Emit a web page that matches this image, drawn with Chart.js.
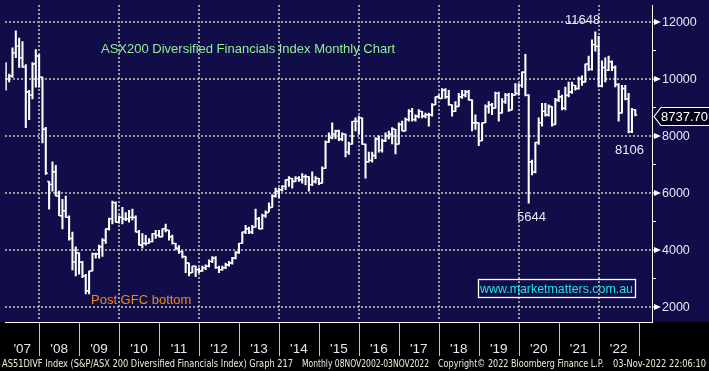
<!DOCTYPE html>
<html><head><meta charset="utf-8">
<script src="https://cdn.jsdelivr.net/npm/chart.js@4.4.1/dist/chart.umd.min.js"></script>
<style>html,body{margin:0;padding:0;background:#000;overflow:hidden}canvas{display:block}</style>
</head><body>
<canvas id="c" width="709" height="371"></canvas>
<script>
// ---- data: monthly OHLC, Feb 2007 .. Nov 2022 ----
const firstYear = 2007, firstMonth = 1; // Feb 2007 (0-based month)
const opens = [
 10200,10000,10100,10910,11140,10740,10420,9540,9430,10520,10800,
 10060,8230,6400,6300,6740,5890,5200,5370,5140,4400,3580,3890,
 3570,3090,2570,3260,3860,3860,4110,4340,4740,5090,5660,4970,
 5140,5090,5090,5140,5140,4630,4170,4230,4230,4290,4570,4510,
 4460,4740,4690,4460,4230,4060,3940,3770,3540,3200,3430,3310,
 3260,3370,3430,3600,3710,3380,3310,3370,3480,3540,3710,3910,
 4230,4630,4740,4630,4800,5090,4740,5200,5310,5490,5880,6060,
 6110,6230,6460,6510,6400,6510,6460,6570,6570,6290,6400,6510,
 6340,6860,7780,7940,8060,8170,7890,8060,7430,7710,8510,8510,
 8630,7710,7090,7140,7310,7890,7490,7830,8000,8060,8230,7710,
 8400,8170,8570,8860,8570,8690,8860,8690,8740,8740,9090,9370,
 9310,9600,9370,9090,8860,9030,9370,9430,9540,9260,8460,8460,
 7830,8460,9030,9090,8970,9490,8800,9200,9430,8910,9430,9490,
 9770,10230,9430,7090,6730,7770,8460,8860,8740,9030,8400,9260,
 9370,8970,9430,9540,9770,9660,10000,9890,10520,10340,11200,11140,
 9750,10400,10300,10600,10400,9800,8800,9660,9300,8150,8920
];
const highs = [
 10570,10170,11090,11680,11430,11310,10500,9600,10570,11030,10850,
 10060,8300,6400,7090,6970,6060,5770,5890,5200,4630,4110,3900,
 3600,3140,3260,3890,3890,4170,4400,4740,5120,5715,5690,5200,
 5490,5310,5390,5430,5200,4690,4570,4510,4400,4570,4690,4690,
 4740,4910,4690,4520,4230,4150,3970,3770,3540,3430,3430,3370,
 3430,3480,3650,3770,3770,3430,3430,3540,3600,3740,3940,4230,
 4630,4860,4800,4860,5430,5140,5260,5370,5650,5940,6170,6170,
 6260,6460,6570,6510,6570,6570,6680,6630,6570,6740,6570,6510,
 6910,7830,8110,8460,8200,8200,8110,8060,7780,8510,8630,8690,
 8630,7710,7430,7430,7940,8000,7890,8110,8170,8290,8230,8460,
 8520,8630,8920,8970,8740,8920,8860,8800,8800,9130,9370,9430,
 9660,9660,9600,9090,9200,9490,9600,9600,9600,9260,8740,8460,
 8460,9090,9200,9140,9540,9540,9310,9490,9490,9490,9830,9830,
 10250,10860,9450,7150,7770,8630,9140,9140,9090,9030,9320,9600,
 9430,9710,9890,9890,9770,10060,10110,10520,10800,11370,11648,11490,
 10630,10740,10800,10630,10460,9830,9770,9770,9490,8970,8920
];
const lows = [
 9600,9890,10050,10740,10400,10400,8290,8570,9300,9710,9710,
 7750,6650,5430,6060,5890,5200,4740,5140,4340,3300,3090,3150,
 3030,2460,2460,3260,3710,3710,3770,4230,4690,4915,4970,4940,
 4910,5030,4970,5050,4630,4170,4060,4170,4230,4280,4400,4460,
 4460,4630,4340,4200,4000,3880,3720,3200,3090,3200,3060,3200,
 3250,3310,3400,3550,3350,3200,3280,3340,3430,3500,3680,3880,
 4230,4570,4570,4570,4800,4740,4740,5140,5340,5490,5850,5830,
 6060,6110,6230,6170,6400,6400,6340,6280,6060,6250,6340,6290,
 6340,6860,7770,7890,7900,7830,7830,7260,7350,7710,8170,8060,
 7700,6514,7080,7080,7200,7430,7430,7800,7890,7720,7370,7710,
 8170,8170,8520,8520,8520,8630,8630,8630,8340,8690,9090,9310,
 9310,9310,9080,8690,8860,9030,9310,9370,9250,8170,8230,7660,
 7830,8460,8800,8740,8970,8516,8800,9140,8860,8910,9430,9430,
 9700,9400,5644,6630,6700,7700,8340,8690,8690,8340,8400,9200,
 8910,8910,9370,9490,9600,9640,9770,9880,10290,10300,10970,9720,
 9715,9890,10290,10290,9715,8516,8800,9260,8106,8115,8700
];
const closes = [
 10000,10100,10910,11140,10740,10420,9540,9430,10520,10800,10060,
 8230,6690,6300,6740,5890,5200,5370,5140,4400,3580,3890,3570,
 3090,2570,3260,3860,3860,4110,4340,4740,5090,5660,4970,5140,
 5090,5090,5140,5140,4630,4170,4230,4230,4290,4570,4510,4460,
 4740,4690,4460,4230,4060,3940,3770,3540,3200,3430,3310,3260,
 3370,3430,3600,3710,3380,3310,3370,3480,3540,3710,3910,4230,
 4630,4740,4630,4800,5090,4740,5200,5310,5490,5880,6060,6110,
 6230,6460,6510,6400,6510,6460,6570,6570,6290,6400,6510,6340,
 6860,7780,7940,8060,8170,7890,8060,7430,7710,8510,8510,8630,
 7710,7090,7140,7310,7890,7490,7830,8000,8060,8230,7710,8400,
 8170,8570,8860,8570,8690,8860,8690,8740,8740,9090,9370,9310,
 9600,9370,9090,8860,9030,9370,9430,9540,9260,8460,8460,7830,
 8460,9030,9090,8970,9490,8800,9200,9430,8910,9430,9490,9770,
 10230,9430,7090,6730,7770,8460,8860,8740,9030,8400,9260,9370,
 8970,9430,9540,9770,9660,10000,9890,10520,10340,11200,11140,9750,
 10400,10000,10600,10400,9800,8800,9660,9300,8150,8920,8737.70
];
const years = [2007,2008,2009,2010,2011,2012,2013,2014,2015,2016,2017,2018,2019,2020,2021,2022];
const yearLabels = ["'07","'08","'09","'10","'11","'12","'13","'14","'15","'16","'17","'18","'19","'20","'21","'22"];
const gridYears = [2008,2010,2012,2014,2016,2018,2020,2022];
const yTicks = [2000,3000,4000,5000,6000,7000,8000,9000,10000,11000,12000];
const yLabels = ['2000','','4000','','6000','','8000','','10000','','12000'];
const lastLabel = '8737.70';

// month-end position of each bar, in decimal years
const times = closes.map((_, i) => firstYear + (firstMonth + i + 1) / 12);
const tickShift = 0.3 / 12;
const xTicks = years.concat([years[years.length - 1] + 1]);

const NAVY = '#100d49';
const GRID = '#9a9a9a';
const FONT = '"Liberation Sans", Arial, sans-serif';

function drawGrid(chart) {
  // dotted grid (2px dots every 4px) at the labelled ticks, placed by the chart's scales
  const ctx = chart.ctx;
  const ca = chart.chartArea;
  const xs = chart.scales.x, ys = chart.scales.y;
  ctx.save();
  ctx.fillStyle = GRID;
  for (let k = 0; k < gridYears.length; k++) {
    const px = Math.round(xs.getPixelForValue(gridYears[k]));
    for (let yy = Math.round(ca.top); yy < ca.bottom - 1; yy += 4) {
      ctx.fillRect(px - 1, yy, 2, 2);
    }
  }
  for (let k = 0; k < yTicks.length; k++) {
    if (!yLabels[k]) continue;
    const py = Math.round(ys.getPixelForValue(yTicks[k]));
    for (let xx = Math.round(ca.left); xx < ca.right - 1; xx += 4) {
      ctx.fillRect(xx, py - 1, 2, 2);
    }
  }
  ctx.restore();
}

const bgPlugin = {
  id: 'bg',
  beforeDraw(chart) {
    const { ctx, width, height, chartArea } = chart;
    ctx.save();
    ctx.fillStyle = '#000';
    ctx.fillRect(0, 0, width, height);
    ctx.fillStyle = NAVY;
    ctx.fillRect(0, 0, width, chartArea.bottom);
    ctx.restore();
    drawGrid(chart);
  }
};

const decoPlugin = {
  id: 'deco',
  afterDraw(chart) {
    const { ctx, chartArea: ca, scales: { x, y } } = chart;
    ctx.save();
    // year tick marks in the bottom band
    ctx.strokeStyle = '#c4c4c4';
    ctx.lineWidth = 1;
    xTicks.forEach(yr => {
      const px = Math.round(x.getPixelForValue(yr)) + 0.5;
      if (px < ca.left || px > ca.right) return;
      ctx.beginPath(); ctx.moveTo(px, ca.bottom + 1); ctx.lineTo(px, ca.bottom + 34); ctx.stroke();
    });
    // year labels, centred in the visible part of each year
    ctx.fillStyle = '#e6e8f2';
    ctx.font = '13.5px ' + FONT;
    ctx.textAlign = 'center';
    ctx.textBaseline = 'alphabetic';
    years.forEach((yr, i) => {
      const a = Math.max(x.getPixelForValue(yr), ca.left);
      const b = Math.min(x.getPixelForValue(yr + 1), ca.right);
      ctx.fillText(yearLabels[i], (a + b) / 2, ca.bottom + 31);
    });
    // right axis ticks, arrows and labels
    ctx.font = '12.5px ' + FONT;
    ctx.textAlign = 'left';
    ctx.textBaseline = 'middle';
    yTicks.forEach((v, i) => {
      const py = Math.round(y.getPixelForValue(v));
      ctx.fillStyle = '#ffffff';
      ctx.strokeStyle = '#ffffff';
      if (yLabels[i]) {
        ctx.beginPath();
        ctx.moveTo(ca.right, py - 0.5); ctx.lineTo(ca.right + 2, py - 0.5);
        ctx.lineTo(ca.right + 2, py - 3); ctx.lineTo(ca.right + 9, py);
        ctx.lineTo(ca.right + 2, py + 3); ctx.lineTo(ca.right + 2, py + 0.5);
        ctx.lineTo(ca.right, py + 0.5); ctx.closePath(); ctx.fill();
        ctx.fillStyle = '#e4e8f4';
        ctx.fillText(yLabels[i], ca.right + 10, py + 1);
      } else {
        ctx.lineWidth = 1;
        ctx.beginPath(); ctx.moveTo(ca.right, py + 0.5); ctx.lineTo(ca.right + 4, py + 0.5); ctx.stroke();
      }
    });
    // last value box
    const ly = Math.round(y.getPixelForValue(closes[closes.length - 1])) + 1.5;
    ctx.beginPath();
    ctx.moveTo(ca.right + 2, ly);
    ctx.lineTo(ca.right + 9, ly - 9);
    ctx.lineTo(chart.width + 2, ly - 9);
    ctx.lineTo(chart.width + 2, ly + 9);
    ctx.lineTo(ca.right + 9, ly + 9);
    ctx.closePath();
    ctx.fillStyle = '#05041c';
    ctx.fill();
    ctx.strokeStyle = '#ffffff'; ctx.lineWidth = 1.2; ctx.stroke();
    ctx.fillStyle = '#ffffff';
    ctx.font = '13px ' + FONT;
    ctx.fillText(lastLabel, ca.right + 9, ly + 0.5);

    // annotations
    ctx.textBaseline = 'alphabetic';
    ctx.font = '13px ' + FONT;
    ctx.fillStyle = '#94ef94';
    ctx.textAlign = 'left';
    ctx.fillText('ASX200 Diversified Financials Index Monthly Chart', 101, 53);
    ctx.fillStyle = '#e8e8f6';
    ctx.fillText('11648', 565, 24);
    ctx.fillText('8106', 615, 154);
    ctx.fillText('5644', 517, 221);
    ctx.fillStyle = '#ec8a1e';
    ctx.fillText('Post GFC bottom', 91, 304);
    // website box
    ctx.strokeStyle = '#ffffff'; ctx.lineWidth = 1.3;
    ctx.strokeRect(478.5, 279.5, 157, 18);
    ctx.fillStyle = '#1ee4e4';
    ctx.fillText('www.marketmatters.com.au', 480, 293, 153);

    // footer
    ctx.fillStyle = '#f2e9dc';
    ctx.font = '10px "DejaVu Sans", sans-serif';
    ctx.fillText('AS51DIVF Index (S&P/ASX 200 Diversified Financials Index) Graph 217', 2, 367, 291);
    ctx.fillText('Monthly 08NOV2002-03NOV2022', 302, 367, 127);
    ctx.fillText('Copyright\u00a9 2022 Bloomberg Finance L.P.', 438, 367, 166);
    ctx.fillText('03-Nov-2022 22:06:10', 613, 367, 93);
    ctx.restore();
  }
};

new Chart(document.getElementById('c'), {
  type: 'bar',
  data: {
    datasets: [
      {
        type: 'bar',
        data: times.map((t, i) => ({ x: t, y: [lows[i], highs[i]] })),
        backgroundColor: '#ffffff',
        borderWidth: 0,
        barThickness: 1.4,
        order: 2
      },
      {
        type: 'scatter',
        data: times.map((t, i) => ({ x: t - tickShift, y: opens[i] })),
        pointStyle: 'line', radius: 1, borderColor: '#ffffff', borderWidth: 1.4,
        order: 1
      },
      {
        type: 'scatter',
        data: times.map((t, i) => ({ x: t + tickShift, y: closes[i] })),
        pointStyle: 'line', radius: 1, borderColor: '#ffffff', borderWidth: 1.4,
        order: 1
      }
    ]
  },
  options: {
    responsive: false,
    animation: false,
    events: [],
    layout: { padding: 0 },
    plugins: { legend: { display: false }, tooltip: { enabled: false } },
    scales: {
      x: {
        type: 'linear',
        position: 'bottom',
        offset: false,
        min: 2007.156,
        max: 2023.335,
        afterBuildTicks: (s) => { s.ticks = xTicks.map(v => ({ value: v })); },
        afterFit: (s) => { s.height = 49; },
        ticks: { display: false },
        grid: { display: false, offset: false, drawTicks: false },
        border: { display: true, color: '#ffffff', width: 1 }
      },
      y: {
        type: 'linear',
        position: 'right',
        min: 1472,
        max: 12576,
        afterBuildTicks: (s) => { s.ticks = yTicks.map(v => ({ value: v })); },
        afterFit: (s) => { s.width = 57; },
        ticks: { display: false },
        grid: { display: false, drawTicks: false },
        border: { display: true, color: '#ffffff', width: 1 }
      }
    }
  },
  plugins: [bgPlugin, decoPlugin]
});
</script>
</body></html>
